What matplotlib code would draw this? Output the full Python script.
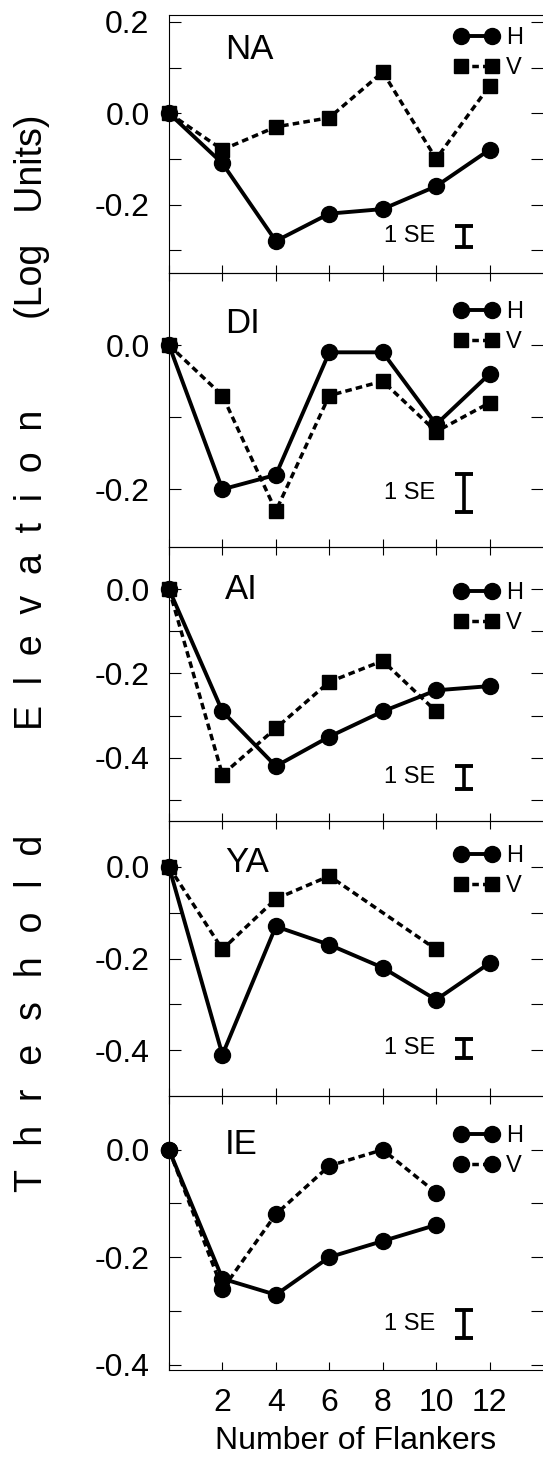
import matplotlib
matplotlib.use('Agg')
import matplotlib.pyplot as plt

plt.rcParams['font.family'] = ['Liberation Sans', 'DejaVu Sans']
plt.rcParams['axes.unicode_minus'] = False

# number of flankers and observers
flankers = [0, 2, 4, 6, 8, 10, 12]
subjects = ['NA', 'DI', 'AI', 'YA', 'IE']

# threshold elevation (log units), H = horizontal, V = vertical flankers
na_h = [0.0, -0.11, -0.28, -0.22, -0.21, -0.16, -0.08]
na_v = [0.0, -0.08, -0.03, -0.01, 0.09, -0.10, 0.06]
di_h = [0.0, -0.20, -0.18, -0.01, -0.01, -0.11, -0.04]
di_v = [0.0, -0.07, -0.23, -0.07, -0.05, -0.12, -0.08]
ai_h = [0.0, -0.29, -0.42, -0.35, -0.29, -0.24, -0.23]
ai_v = [0.0, -0.44, -0.33, -0.22, -0.17, -0.29]
ya_h = [0.0, -0.41, -0.13, -0.17, -0.22, -0.29, -0.21]
ya_v = [0.0, -0.18, -0.07, -0.02, -0.18]
ie_h = [0.0, -0.24, -0.27, -0.20, -0.17, -0.14]
ie_v = [0.0, -0.26, -0.12, -0.03, 0.0, -0.08]

h_x = [flankers, flankers, flankers, flankers, flankers[:6]]
h_y = [na_h, di_h, ai_h, ya_h, ie_h]
v_x = [flankers, flankers, flankers[:6], [0, 2, 4, 6, 10], flankers[:6]]
v_y = [na_v, di_v, ai_v, ya_v, ie_v]
v_marker = ['s', 's', 's', 's', 'o']

# 1 SE bars
se_x = 11.05
se_center = [-0.27, -0.205, -0.446, -0.396, -0.324]
se_half = [0.022, 0.026, 0.027, 0.020, 0.026]

y_limits = [(-0.35, 0.215), (-0.28, 0.1), (-0.55, 0.1), (-0.5, 0.1), (-0.41, 0.1)]
y_major = [[-0.2, 0.0, 0.2], [-0.2, 0.0], [-0.4, -0.2, 0.0], [-0.4, -0.2, 0.0], [-0.4, -0.2, 0.0]]
y_minor = [[-0.3, -0.1, 0.1], [-0.1], [-0.5, -0.3, -0.1], [-0.3, -0.1], [-0.3, -0.1]]
label_y = [0.14, 0.03, 0.0, 0.01, 0.01]

# layout in pixels
W, H = 543, 1462
left_px = 169
edges = [15, 273, 547, 821, 1096, 1370]
legend_top = [27, 301, 582, 845, 1125]

fig = plt.figure(figsize=(W / 100, H / 100), dpi=100)

for i in range(5):
    top, bot = edges[i], edges[i + 1]
    ax = fig.add_axes([left_px / W, 1 - bot / H, (W - left_px) / W, (bot - top) / H])
    ax.set_facecolor('none')

    ax.plot(v_x[i], v_y[i], linestyle=(0, (1.9, 1.2)), marker=v_marker[i], color='black',
            lw=2.5, ms=9.8 if v_marker[i] == 's' else 11.5, clip_on=False, label='V', zorder=3)
    ax.plot(h_x[i], h_y[i], '-o', color='black', lw=2.8, ms=11.5, clip_on=False, label='H', zorder=4)

    handles, labels = ax.get_legend_handles_labels()
    ax.legend(handles[::-1], labels[::-1], loc='upper right',
              bbox_to_anchor=(523 / W, 1 - legend_top[i] / H), bbox_transform=fig.transFigure,
              frameon=False, numpoints=2, handlelength=1.9, handletextpad=0.3,
              labelspacing=0.35, borderpad=0, borderaxespad=0, fontsize=17)

    ax.errorbar(se_x, se_center[i], yerr=se_half[i], color='black', elinewidth=2.6,
                capsize=6.8, capthick=2.8, fmt='none')
    ax.text(9.95, se_center[i], '1 SE', ha='right', va='center', fontsize=17)

    ax.text(2.1, label_y[i], subjects[i], ha='left', va='center', fontsize=25)

    ax.set_xlim(0, 14)
    ax.set_ylim(*y_limits[i])

    ax.set_yticks(y_major[i])
    ax.set_yticklabels(['%.1f' % abs(v) if v == 0 else '%.1f' % v for v in y_major[i]])
    ax.set_yticks(y_minor[i], minor=True)
    ax.tick_params(axis='y', which='both', direction='in', length=8.6, width=0.8,
                   left=True, right=True, labelsize=23, pad=14)

    ax.set_xticks(flankers)
    ax.set_xticklabels([''] + [str(f) for f in flankers[1:]])
    if i < 4:
        ax.tick_params(axis='x', direction='inout', length=11.5, width=0.8,
                       top=False, labelbottom=False)
    else:
        ax.tick_params(axis='x', direction='in', length=6, width=0.8,
                       top=False, labelsize=23, pad=13)
        ax.set_xlabel('Number of Flankers', fontsize=23, labelpad=6)

    ax.spines['right'].set_visible(False)
    for s in ['left', 'top', 'bottom']:
        ax.spines[s].set_linewidth(0.8)

# spaced y label
gap = '  \u200a'
fig.text(32 / W, 1 - 1013 / H, gap.join('Threshold'), rotation=90, ha='center', va='center', fontsize=27)
fig.text(32 / W, 1 - 570 / H, '  '.join('Elevation'), rotation=90, ha='center', va='center', fontsize=27)
fig.text(32 / W, 1 - 217 / H, '(Log   Units)', rotation=90, ha='center', va='center', fontsize=27)

fig.savefig('out.png', dpi=100)
